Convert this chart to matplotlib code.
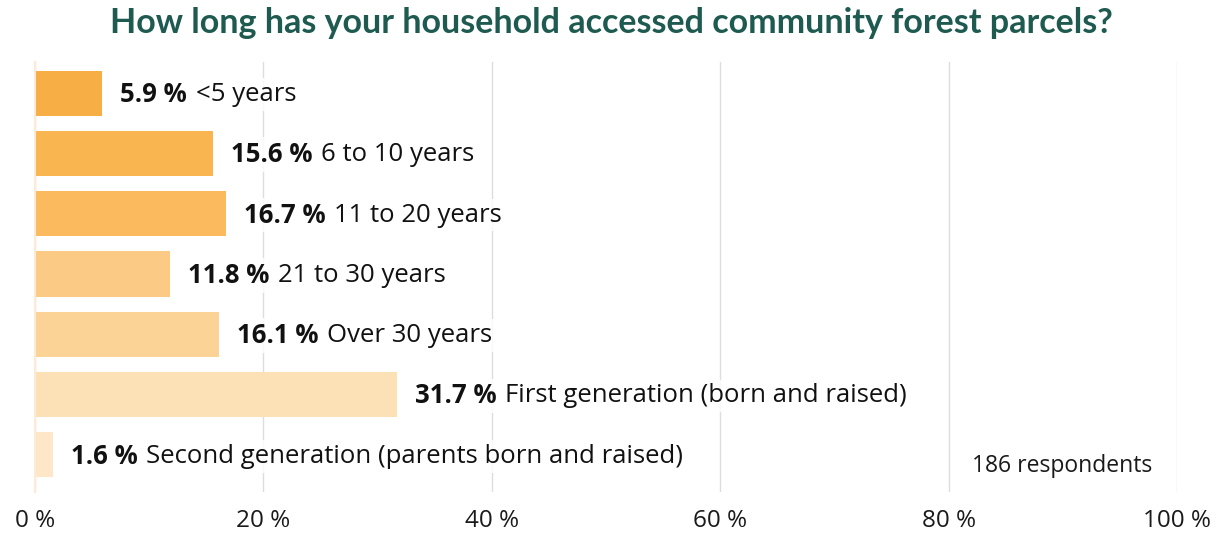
import matplotlib.pyplot as plt

# survey answers, top to bottom
categories = ['<5 years', '6 to 10 years', '11 to 20 years', '21 to 30 years',
              'Over 30 years', 'First generation (born and raised)',
              'Second generation (parents born and raised)']
shares = [5.9, 15.6, 16.7, 11.8, 16.1, 31.7, 1.6]
colours = ['#F7AE45', '#F9B54F', '#FBBA5E', '#FBCB85', '#FBD396', '#FCE1B6', '#FDE7C8']
ticks = [0, 20, 40, 60, 80, 100]
respondents = 186

plt.rcParams['font.family'] = ['Open Sans', 'DejaVu Sans']

fig = plt.figure(figsize=(12.22, 5.35), dpi=100)
ax = fig.add_axes([35 / 1222, 1 - 492 / 535, 1142 / 1222, 430 / 535])

ypos = list(range(len(categories)))
ax.barh(ypos, shares, height=0.75, color=colours, zorder=2)

ax.set_xlim(0, 100)
ax.set_ylim(6.617, -0.517)

box = dict(boxstyle='square,pad=0.15', fc='white', ec='none', alpha=0.85)

# labels: bold value + category name
for y, v, c in zip(ypos, shares, categories):
    t = ax.annotate(f'{v} %', (v, y), xytext=(13, -1), textcoords='offset points',
                    fontsize=18.5, fontweight='bold', color='#111111',
                    va='center', ha='left', zorder=4, bbox=box)
    ax.annotate(c, (1, 0.5), xycoords=t, xytext=(6, 0),
                textcoords='offset points', fontsize=18.5, color='#111111',
                va='center', ha='left', zorder=3, bbox=box)

ax.text(0.978, 0.06, f'{respondents} respondents', transform=ax.transAxes,
        ha='right', va='center', fontsize=16.5, color='#1a1a1a')

# grid and axes
ax.set_xticks(ticks)
ax.set_xticklabels([f'{t} %' for t in ticks], fontsize=17.5, color='#1a1a1a')
ax.grid(axis='x', color='#dddddd', linewidth=1, zorder=0)
ax.set_yticks([])
ax.tick_params(axis='x', length=0, pad=12)
for s in ['top', 'right', 'bottom']:
    ax.spines[s].set_visible(False)
ax.spines['left'].set_color('#FDEBD8')
ax.spines['left'].set_linewidth(1.5)

fig.text(0.5, 1 - 23 / 535, 'How long has your household accessed community forest parcels?',
         ha='center', va='center', fontsize=24.5, fontweight='bold', color='#1E5A50',
         family=['Lato', 'DejaVu Sans'])

fig.savefig('out.png', dpi=100)
